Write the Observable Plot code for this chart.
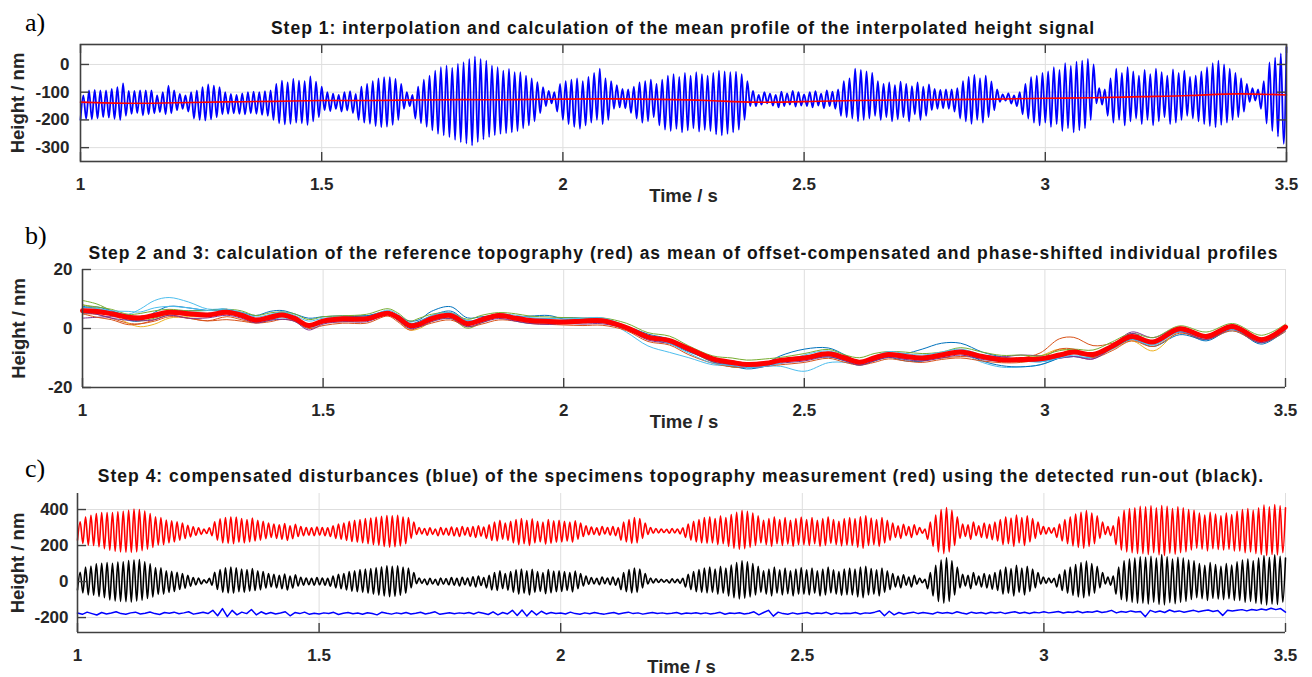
<!DOCTYPE html>
<html><head><meta charset="utf-8">
<script src="https://cdn.jsdelivr.net/npm/d3@7"></script>
<script src="https://cdn.jsdelivr.net/npm/@observablehq/plot@0.6"></script>
<style>
body{margin:0;background:#fff;}
#root{position:relative;width:1312px;height:677px;overflow:hidden;font-family:"Liberation Sans",Arial,sans-serif;}
.ttl{position:absolute;text-align:center;font-weight:bold;font-size:17.5px;line-height:17.5px;letter-spacing:1px;color:#151515;white-space:nowrap;}
.lbl{position:absolute;left:25px;font-family:"Liberation Serif","Times New Roman",serif;font-size:26px;line-height:26px;color:#000;}
#root svg{position:absolute;left:0;}
</style></head><body><div id="root"></div>
<script>
// ---------- shared axis data ----------
const xDomain = [1, 3.5];
const xTicks = [1, 1.5, 2, 2.5, 3, 3.5];

// ---------- panel a ----------
const aTitle = "Step 1: interpolation and calculation of the mean profile of the interpolated height signal";
const aDomain = [-350, 72];
const aTicks = [-300, -200, -100, 0];
const aTop = [
 [-112,-94,-92,-94,-94,-88,-82,-68,-95],
 [-95,-94,-94,-94,-112,-100,-76,-94],
 [-106,-112,-100,-94,-82,-72,-76,-82,-100],
 [-106,-110,-104,-100,-98,-100,-96,-94],
 [-70,-58,-65,-52,-58,-60,-43,-62,-80],
 [-100,-105,-110,-100,-96,-106,-80,-70],
 [-60,-50,-46,-46,-52,-70,-100,-110,-80],
 [-55,-40,-22,-10,-4,-12,2,8],
 [20,29,20,14,-4,-10,-22,-16,-28],
 [-28,-40,-50,-64,-82,-95,-100,-70],
 [-60,-55,-50,-60,-45,-30,-15,-50,-60],
 [-75,-88,-90,-80,-65,-60,-55,-70],
 [-55,-40,-35,-45,-30,-40,-28,-35,-40],
 [-30,-22,-25,-28,-26,-35,-60,-95],
 [-110,-100,-105,-110,-98,-104,-95,-100,-108],
 [-100,-96,-105,-94,-98,-90,-60,-50],
 [-15,-20,-25,-30,-60,-70,-65,-75,-62],
 [-70,-78,-65,-80,-72,-88,-92,-90],
 [-90,-85,-60,-45,-38,-50,-40,-61,-90],
 [-108,-104,-112,-100,-70,-46,-40,-30],
 [-25,-10,-20,5,-5,10,14,20,0],
 [-85,-90,-50,-15,-30,-10,-25,-40],
 [-20,-35,-15,-28,-40,-18,-30,-22,-45],
 [-40,-25,-10,5,14,0,-15,-30],
 [-50,-70,-85,-90,-60,7,25,40,62]
].flat();
const aBot = [
 [-200,-196,-198,-195,-190,-192,-196,-200,-185],
 [-178,-175,-184,-180,-176,-172,-180,-176],
 [-165,-160,-170,-195,-200,-202,-198,-190,-180],
 [-178,-176,-178,-180,-176,-178,-182,-185],
 [-200,-212,-216,-214,-210,-212,-218,-205,-190],
 [-165,-168,-160,-170,-166,-175,-200,-210],
 [-214,-222,-226,-224,-218,-200,-160,-150,-195],
 [-212,-225,-238,-250,-256,-262,-272,-280],
 [-285,-292,-280,-270,-262,-255,-250,-248,-245],
 [-240,-230,-220,-205,-175,-150,-140,-170],
 [-200,-215,-225,-232,-220,-210,-200,-215,-200],
 [-160,-155,-158,-175,-195,-210,-205,-190],
 [-220,-235,-240,-232,-245,-238,-230,-242,-236],
 [-240,-252,-256,-250,-245,-235,-200,-150],
 [-150,-145,-140,-148,-155,-150,-145,-152,-148],
 [-150,-155,-148,-158,-150,-160,-185,-190],
 [-195,-205,-200,-195,-185,-200,-190,-205,-198],
 [-190,-205,-180,-200,-185,-165,-160,-158],
 [-160,-170,-195,-205,-214,-200,-210,-190,-165],
 [-135,-130,-141,-150,-180,-195,-210,-220],
 [-210,-225,-215,-240,-230,-245,-238,-230,-200],
 [-140,-145,-185,-210,-200,-220,-205,-195],
 [-215,-200,-220,-205,-190,-215,-210,-200,-185],
 [-195,-205,-215,-222,-226,-218,-210,-200],
 [-190,-170,-135,-130,-160,-213,-240,-260,-286]
].flat();
const aMeanT = [1.0,1.1,1.2,1.3,1.4,1.5,1.6,1.7,1.8,1.9,2.0,2.1,2.2,2.3,2.4,2.5,2.6,2.7,2.8,2.9,3.0,3.1,3.2,3.3,3.4,3.5];
const aMean  = [-136,-140,-138,-135,-133,-130,-130,-128,-127,-127,-125,-124,-126,-130,-136,-134,-130,-128,-127,-125,-122,-120,-116,-112,-106,-110];

// ---------- panel b ----------
const bTitle = "Step 2 and 3: calculation of the reference topography (red) as mean of offset-compensated and phase-shifted individual profiles";
const bDomain = [-20, 20];
const bTicks = [-20, 0, 20];
const bT = [1.00,1.03,1.06,1.095,1.12,1.15,1.18,1.22,1.26,1.30,
 1.33,1.36,1.39,1.415,1.44,1.47,1.50,1.54,1.59,1.635,
 1.655,1.68,1.70,1.725,1.765,1.80,1.83,1.865,1.90,1.93,
 1.97,2.00,2.04,2.08,2.13,2.175,2.22,2.26,2.31,2.35,
 2.38,2.42,2.45,2.50,2.55,2.585,2.615,2.645,2.675,2.71,
 2.745,2.785,2.825,2.87,2.91,2.95,2.99,3.03,3.06,3.10,
 3.14,3.18,3.225,3.28,3.335,3.39,3.45,3.50];
const bRed = [6.0,5.8,5.0,3.8,3.6,4.5,5.5,5.0,4.6,5.5,
 4.5,2.9,3.8,4.6,3.5,1.0,2.5,3.3,3.3,5.2,
 3.8,1.0,1.5,3.3,4.4,1.6,3.0,4.4,3.5,2.7,
 2.4,2.2,2.5,2.6,0.3,-2.9,-4.1,-6.9,-10.3,-11.5,
 -12.2,-11.8,-10.8,-10.0,-8.6,-10.0,-11.4,-10.0,-8.8,-9.5,
 -10.0,-9.0,-8.0,-9.5,-10.6,-10.5,-10.3,-9.0,-8.0,-8.8,
 -6.0,-2.7,-4.6,-0.1,-2.7,0.7,-3.8,0.5];
const bBlue1 = [7.5,6.8,5.5,2.8,2.6,5.5,7.5,7.0,6.1,6.0,
 5.5,4.4,5.8,6.1,5.0,3.5,4.0,4.3,4.3,5.2,
 4.3,2.5,3.0,5.8,7.4,3.6,4.0,4.4,4.0,4.2,
 4.4,3.2,3.0,2.6,0.8,-1.9,-3.6,-6.9,-11.3,-13.0,
 -13.2,-11.8,-9.3,-7.0,-6.6,-9.0,-11.4,-10.5,-8.8,-8.5,
 -7.0,-5.0,-5.0,-8.0,-9.6,-10.5,-11.3,-10.0,-9.5,-9.8,
 -6.5,-3.7,-6.1,-2.1,-3.7,-0.3,-4.8,0.0];
const bOrange = [5.0,4.8,3.5,1.8,1.6,3.0,4.5,3.5,2.6,3.0,
 2.5,1.9,2.8,4.1,3.0,1.0,2.0,2.3,2.8,5.2,
 3.8,0.5,1.0,3.3,4.4,1.6,3.0,3.9,3.5,2.7,
 2.4,1.7,2.0,2.6,0.3,-2.9,-4.1,-6.4,-10.3,-11.5,
 -11.7,-11.3,-10.8,-10.0,-8.6,-9.5,-10.9,-10.0,-8.8,-10.0,
 -10.5,-10.0,-9.5,-10.0,-10.6,-10.0,-8.3,-3.5,-3.0,-5.8,
 -5.0,-2.7,-4.6,-0.6,-2.7,0.7,-3.3,0.5];
const bYellow = [8.0,6.8,5.0,1.8,0.6,1.5,3.5,4.0,4.1,5.5,
 4.5,3.4,3.8,4.6,3.5,0.5,2.5,3.3,2.8,5.2,
 2.8,-0.5,0.0,2.3,4.4,2.1,3.5,4.9,3.5,2.7,
 2.9,2.7,3.0,2.6,0.3,-2.9,-4.1,-7.4,-11.3,-12.0,
 -12.2,-11.8,-10.8,-9.5,-8.1,-10.0,-11.4,-10.0,-8.3,-9.5,
 -10.0,-9.0,-8.5,-9.5,-10.1,-10.0,-9.3,-7.0,-8.0,-9.3,
 -7.0,-4.2,-7.6,-1.1,-2.7,0.7,-3.3,0.5];
const bPurple = [3.5,3.8,4.0,3.8,4.1,4.5,5.0,4.5,4.6,5.5,
 4.0,2.9,3.8,4.6,4.0,1.0,2.5,3.8,3.8,5.7,
 3.8,1.5,1.5,3.3,4.4,1.6,3.5,4.9,4.0,3.2,
 2.4,2.2,2.5,2.6,0.3,-2.4,-4.1,-7.4,-10.8,-12.0,
 -12.2,-11.3,-10.8,-10.0,-9.1,-10.5,-11.4,-9.5,-8.8,-9.5,
 -10.0,-9.0,-8.0,-9.0,-9.6,-9.0,-9.3,-10.0,-9.5,-10.3,
 -6.0,-1.2,-3.1,0.4,-2.7,1.2,-3.3,0.5];
const bGreen = [9.5,8.3,6.0,3.3,2.6,3.5,5.0,5.0,5.1,5.5,
 4.5,2.9,4.3,5.6,4.0,1.0,2.5,3.3,3.3,5.2,
 3.8,1.5,1.5,2.8,3.4,0.1,2.0,3.9,3.5,2.7,
 2.4,2.2,3.0,3.1,0.3,-2.9,-4.1,-7.4,-11.3,-13.0,
 -13.2,-12.3,-10.8,-9.5,-8.6,-10.0,-11.4,-10.0,-8.8,-9.5,
 -9.5,-9.0,-8.5,-9.5,-10.6,-10.5,-10.3,-8.5,-7.5,-8.8,
 -6.0,-3.2,-4.6,-0.6,-2.7,0.7,-3.8,0.0];
const bCyan = [5.0,5.3,5.0,4.8,6.6,9.5,10.5,9.0,6.6,6.5,
 4.5,2.4,2.8,3.6,2.5,0.0,2.0,3.3,3.3,5.2,
 3.3,0.0,1.5,3.3,4.4,1.1,3.0,4.4,2.5,1.7,
 1.9,2.2,2.5,3.1,-1.2,-5.9,-8.1,-9.9,-12.3,-12.5,
 -13.2,-12.8,-12.8,-14.5,-11.6,-11.5,-12.4,-11.0,-9.3,-10.5,
 -11.0,-9.5,-8.5,-11.5,-13.1,-13.0,-12.3,-10.0,-9.5,-9.8,
 -7.0,-3.7,-5.6,-1.1,-3.7,-0.8,-4.8,-1.0];
const bMaroon = [6.5,5.8,5.0,4.3,4.1,4.5,5.5,5.5,5.1,5.5,
 4.0,2.4,3.8,4.6,3.5,1.5,2.5,3.3,3.3,5.2,
 4.3,1.5,1.5,3.3,4.4,2.1,3.0,4.4,3.0,2.7,
 2.4,2.2,2.5,2.6,0.8,-2.9,-4.1,-6.9,-10.3,-11.0,
 -11.7,-11.8,-10.8,-10.5,-8.6,-10.0,-10.9,-10.0,-8.8,-9.5,
 -10.5,-9.0,-8.0,-9.5,-10.6,-10.5,-10.3,-8.5,-7.5,-8.8,
 -6.0,-2.7,-4.6,-0.1,-2.2,0.7,-3.8,0.5];
const bBlue2 = [7.0,7.3,6.0,4.3,3.6,4.5,6.0,6.0,6.1,6.5,
 5.0,2.9,3.8,5.1,3.5,0.5,2.5,3.8,4.3,5.7,
 3.8,1.5,2.5,4.3,5.9,2.6,3.0,3.9,3.5,3.2,
 3.4,3.7,3.5,3.1,0.3,-3.4,-5.1,-7.9,-10.8,-12.5,
 -13.7,-12.8,-11.3,-10.5,-9.6,-11.0,-12.4,-11.0,-9.8,-11.0,
 -11.0,-9.0,-8.0,-11.0,-12.6,-13.0,-12.3,-10.0,-8.0,-8.3,
 -6.5,-3.7,-5.1,-1.1,-4.2,-0.3,-5.3,-0.5];
const bOrange2 = [5.0,3.8,3.0,1.3,1.6,2.5,4.0,3.5,2.6,4.0,
 3.0,1.9,2.3,3.1,2.5,0.0,1.0,1.8,1.8,4.2,
 2.3,-0.5,0.5,1.8,2.9,0.6,1.5,2.9,2.5,1.7,
 1.4,1.2,1.0,1.1,-0.7,-4.4,-5.6,-8.9,-11.8,-13.0,
 -13.2,-12.8,-12.3,-11.5,-10.1,-11.5,-12.4,-11.5,-10.3,-11.0,
 -11.5,-10.5,-10.0,-11.0,-11.6,-11.5,-10.3,-7.0,-7.0,-9.8,
 -7.5,-4.2,-6.1,-1.6,-3.7,-0.8,-4.8,-1.0];
const bGreen2 = [8.0,7.3,6.5,4.8,5.1,6.0,6.5,6.0,6.1,6.5,
 6.0,4.4,5.3,5.6,5.0,3.0,4.0,4.3,4.8,6.7,
 5.3,2.5,3.5,4.8,5.4,3.1,4.5,5.4,5.0,4.2,
 3.9,3.7,3.5,3.6,1.8,-1.4,-2.6,-5.9,-9.3,-10.0,
 -10.7,-10.3,-9.8,-8.5,-7.1,-9.0,-9.9,-8.5,-7.8,-8.0,
 -8.5,-8.0,-6.5,-8.0,-9.1,-9.0,-9.3,-7.5,-7.0,-7.3,
 -4.5,-1.7,-3.1,0.9,-1.2,1.7,-2.3,1.5];
const bPurple2 = [5.5,4.8,3.5,2.8,2.6,3.0,4.5,3.5,3.6,4.5,
 3.5,1.9,2.8,3.1,2.5,-0.5,1.5,2.3,2.3,4.7,
 2.8,0.0,0.5,2.3,3.4,0.6,2.0,3.4,2.5,1.7,
 1.4,1.7,1.5,1.6,-0.2,-3.9,-5.1,-7.4,-11.3,-12.5,
 -13.2,-12.8,-11.8,-11.0,-9.6,-11.0,-12.4,-11.0,-9.8,-10.5,
 -11.0,-10.0,-9.0,-10.5,-11.1,-11.0,-10.8,-10.0,-9.5,-10.3,
 -6.5,-1.7,-4.6,-1.1,-3.7,-0.3,-4.8,-0.5];
const bCyan2 = [7.0,6.8,6.0,5.8,5.6,7.0,7.5,7.0,6.1,6.5,
 5.5,3.9,4.8,5.6,4.5,2.5,3.5,3.8,3.8,6.2,
 4.8,2.0,2.0,4.3,5.4,2.6,3.5,4.9,4.5,3.7,
 3.4,3.2,3.5,3.6,0.8,-2.9,-5.1,-8.4,-11.8,-12.5,
 -13.2,-12.8,-11.8,-9.0,-7.6,-9.5,-11.4,-9.5,-7.8,-8.5,
 -9.0,-8.0,-7.0,-9.0,-10.6,-11.0,-11.3,-10.0,-9.0,-9.3,
 -6.0,-3.7,-5.6,-1.1,-3.2,-0.3,-4.3,-0.5];
const bProfiles = [
 {color: "#0072BD", values: bBlue1},
 {color: "#D95319", values: bOrange},
 {color: "#EDB120", values: bYellow},
 {color: "#7E2F8E", values: bPurple},
 {color: "#77AC30", values: bGreen},
 {color: "#4DBEEE", values: bCyan},
 {color: "#A2142F", values: bMaroon},
 {color: "#0072BD", values: bBlue2},
 {color: "#D95319", values: bOrange2},
 {color: "#77AC30", values: bGreen2},
 {color: "#7E2F8E", values: bPurple2},
 {color: "#4DBEEE", values: bCyan2}
];

// ---------- panel c ----------
const cTitle = "Step 4: compensated disturbances (blue) of the specimens topography measurement (red) using the detected run-out (black).";
const cDomain = [-283, 489];
const cTicks = [-200, 0, 200, 400];
const cRedTop = [
 [332,359,368,378,383,383,383,387,390],[396,402,400,391,378,359,355,341,338],
 [332,325,313,304,298,291,298,332,348],[355,360,358,350,345,352,340,335,325],
 [320,315,322,310,318,305,300,298,302],[300,298,310,320,325,335,340,345,350],
 [352,358,362,367,365,368,360,355,330],[300,295,298,292,300,296,302,298,305],
 [300,305,310,302,315,330,340,325,335],[345,350,340,348,335,330,345,338,340],
 [335,330,338,325,310,302,298,305,300],[305,300,330,345,355,350,325,300,295],
 [292,290,295,292,298,320,335,345,355],[360,350,365,355,372,385,394,390,380],
 [365,340,350,360,345,355,340,350,358],[345,355,340,350,360,345,335,350,355],
 [350,360,365,352,345,355,340,325,310],[318,305,315,300,292,330,370,400,411],
 [395,360,320,315,330,310,325,318,330],[345,360,352,370,355,365,350,330,305],
 [300,298,320,345,360,375,385,394,380],[365,330,305,310,360,395,405,410,418],
 [415,420,410,422,418,405,415,410,400],[395,380,370,385,375,365,380,372,390],
 [400,405,395,410,425,415,428,420,410]
].flat();
const cRedBot = [
 [230,211,202,200,193,183,174,168,165],[163,162,165,172,180,190,202,205,215],
 [220,230,239,248,257,262,267,255,230],[215,212,210,218,215,220,225,230,238],
 [245,240,235,228,238,250,255,258,255],[258,255,250,240,235,228,222,218,215],
 [210,205,200,195,191,193,198,210,240],[262,265,258,262,255,260,258,254,250],
 [258,250,245,252,240,228,225,235,228],[215,205,210,200,215,220,208,212,218],
 [220,225,218,235,250,260,262,258,264],[258,255,230,220,212,215,240,262,268],
 [270,272,268,270,265,245,230,220,215],[212,215,205,210,195,185,180,183,190],
 [200,215,205,195,210,200,208,195,205],[205,200,210,195,200,212,205,198,202],
 [200,190,185,200,205,195,215,230,245],[240,255,245,260,268,235,195,165,155],
 [165,200,240,250,235,255,245,240,232],[225,205,210,195,215,200,220,240,262],
 [265,268,245,225,210,198,190,185,195],[210,240,262,255,205,175,165,160,155],
 [155,150,160,148,145,158,152,160,165],[175,185,180,170,182,178,175,180,170],
 [170,160,165,155,150,145,150,148,160]
].flat();
const cBlackTop = [
 [52,80,86,99,102,105,101,108,109],[116,120,122,110,99,78,76,60,57],
 [52,44,35,22,20,10,18,52,66],[76,80,77,70,66,72,60,56,44],
 [40,34,42,30,38,24,20,18,22],[20,18,30,40,44,55,60,66,70],
 [72,78,82,88,85,88,80,75,50],[20,14,18,12,20,16,22,18,24],
 [20,26,30,22,35,50,60,45,55],[65,70,60,68,55,50,66,58,60],
 [55,50,58,45,30,22,18,25,20],[25,20,50,66,75,70,45,20,15],
 [12,10,15,12,18,40,55,66,75],[80,70,85,75,92,106,115,110,100],
 [85,60,70,80,65,75,60,70,78],[65,75,60,70,80,65,55,70,75],
 [70,80,85,72,65,75,60,45,30],[38,25,35,20,12,50,90,120,132],
 [115,80,40,35,50,30,45,38,50],[65,80,72,90,75,85,70,50,25],
 [20,18,40,65,80,95,105,114,100],[85,50,25,30,80,115,125,130,138],
 [135,140,130,150,138,125,135,130,120],[115,100,90,105,95,85,100,92,110],
 [120,125,115,130,145,135,148,140,130]
].flat();
const cBlackBot = [
 [-46,-63,-74,-76,-83,-90,-102,-108,-110],[-112,-114,-108,-104,-94,-86,-72,-70,-60],
 [-55,-44,-37,-26,-18,-14,-8,-20,-44],[-60,-64,-65,-56,-60,-54,-50,-46,-36],
 [-30,-36,-40,-47,-36,-25,-20,-18,-20],[-18,-20,-26,-35,-40,-47,-54,-57,-60],
 [-65,-70,-76,-80,-84,-82,-77,-65,-35],[-12,-10,-18,-14,-20,-15,-18,-20,-25],
 [-18,-25,-30,-22,-35,-47,-50,-40,-48],[-60,-70,-65,-75,-60,-55,-68,-63,-57],
 [-55,-50,-58,-40,-25,-15,-13,-18,-12],[-18,-20,-45,-56,-63,-60,-35,-14,-8],
 [-5,-3,-8,-6,-10,-30,-45,-56,-60],[-63,-60,-70,-65,-80,-90,-96,-92,-85],
 [-75,-60,-70,-80,-65,-75,-67,-80,-70],[-70,-75,-65,-80,-75,-63,-70,-77,-73],
 [-75,-85,-90,-75,-70,-80,-60,-45,-30],[-35,-20,-30,-15,-7,-40,-80,-110,-120],
 [-110,-75,-35,-25,-40,-20,-30,-35,-43],[-50,-70,-65,-80,-60,-75,-55,-35,-13],
 [-10,-7,-30,-50,-65,-77,-85,-90,-80],[-65,-35,-13,-20,-70,-100,-110,-115,-120],
 [-120,-125,-115,-127,-130,-117,-123,-115,-110],[-100,-90,-95,-105,-93,-97,-100,-95,-105],
 [-105,-115,-110,-120,-125,-130,-125,-127,-115]
].flat();
const cBlue = [
 [-175,-182,-170,-178,-186,-172,-180,-175,-168,-178],
 [-182,-174,-170,-180,-176,-169,-178,-183,-172,-176],
 [-170,-179,-174,-168,-181,-176,-171,-178,-160,-190],
 [-150,-195,-160,-185,-170,-178,-155,-185,-168,-180],
 [-172,-180,-175,-168,-190,-172,-178,-170,-182,-176],
 [-180,-174,-178,-171,-183,-176,-172,-179,-175,-182],
 [-173,-178,-185,-170,-176,-181,-174,-179,-172,-180],
 [-176,-171,-180,-175,-168,-182,-177,-173,-179,-174],
 [-178,-172,-180,-170,-176,-183,-168,-185,-172,-180],
 [-160,-188,-158,-192,-162,-185,-165,-180,-172,-178],
 [-175,-180,-170,-178,-182,-174,-179,-172,-177,-181],
 [-176,-172,-180,-175,-170,-178,-174,-181,-176,-172],
 [-178,-174,-179,-176,-172,-180,-175,-177,-173,-179],
 [-174,-180,-176,-171,-182,-175,-178,-173,-180,-176],
 [-168,-185,-172,-160,-192,-170,-178,-182,-174,-180],
 [-176,-172,-180,-175,-178,-171,-182,-174,-179,-176],
 [-178,-172,-180,-174,-176,-170,-162,-190,-165,-185],
 [-172,-180,-175,-170,-178,-172,-176,-180,-170,-176],
 [-172,-178,-168,-175,-180,-170,-176,-172,-179,-171],
 [-175,-170,-178,-172,-168,-176,-171,-177,-170,-174],
 [-168,-174,-170,-166,-175,-169,-172,-165,-173,-168],
 [-170,-164,-172,-168,-160,-174,-166,-171,-163,-169],
 [-166,-195,-160,-170,-164,-172,-158,-168,-163,-170],
 [-165,-160,-168,-162,-158,-166,-161,-188,-159,-164],
 [-160,-156,-163,-155,-160,-152,-158,-148,-156,-150],
 [-170]
].flat();

// ---------- helpers ----------
const GRID = "#dedede";
const AXIS = "#404040";
const baseStyle = {fontFamily: '"Liberation Sans", Arial, sans-serif', fontSize: "17px", fontWeight: "bold", color: "#262626", background: "transparent", overflow: "visible"};
const fmt = d => String(d);

function osc(tops, bots) {
  const n = Math.min(tops.length, bots.length), m = 2 * n;
  return d3.range(m).map(k => ({
    t: xDomain[0] + k * (xDomain[1] - xDomain[0]) / (m - 1),
    v: k % 2 === 0 ? bots[k >> 1] : tops[k >> 1]
  }));
}
const pairs = (ts, vs) => ts.map((t, i) => ({t, v: vs[i]}));

function axisLabels(dxY) {
  return [
    Plot.text(["Time / s"], {text: d => d, frameAnchor: "bottom", lineAnchor: "top", dy: 27, fontSize: 18.5, fill: "#262626"}),
    Plot.text(["Height / nm"], {text: d => d, frameAnchor: "left", textAnchor: "middle", lineAnchor: "middle", rotate: -90, dx: dxY, fontSize: 18.5, fill: "#262626"})
  ];
}

const root = document.getElementById("root");
function place(svg, top) { svg.style.top = top + "px"; root.appendChild(svg); }
function addDiv(cls, text, css) { const d = document.createElement("div"); d.className = cls; d.textContent = text; Object.assign(d.style, css); root.appendChild(d); }

// ---------- panel a ----------
{
  const H = 210, mt = 44, mb = 49, ml = 80, mr = 26;
  const fh = H - mt - mb, fw = 1312 - ml - mr, tl = 9;
  const svg = Plot.plot({
    width: 1312, height: H, marginTop: mt, marginBottom: mb, marginLeft: ml, marginRight: mr,
    style: baseStyle,
    x: {domain: xDomain, ticks: xTicks, tickSize: 0, tickPadding: 16, tickFormat: fmt, label: null},
    y: {domain: aDomain, ticks: aTicks, tickSize: 0, tickPadding: 11, tickFormat: fmt, label: null},
    marks: [
      Plot.ruleY(aTicks, {stroke: GRID, strokeWidth: 1}),
      Plot.ruleX(xTicks, {stroke: GRID, strokeWidth: 1}),
      Plot.line(osc(aTop, aBot), {x: "t", y: "v", stroke: "#0000ff", strokeWidth: 1.8, curve: "monotone-x"}),
      Plot.line(pairs(aMeanT, aMean), {x: "t", y: "v", stroke: "#ff0000", strokeWidth: 1.6, curve: "natural"}),
      Plot.frame({stroke: AXIS, strokeWidth: 1.6}),
      Plot.ruleX(xTicks, {stroke: AXIS, strokeWidth: 1.4, insetTop: fh - tl}),
      Plot.ruleX(xTicks, {stroke: AXIS, strokeWidth: 1.4, insetBottom: fh - tl}),
      Plot.ruleY(aTicks, {stroke: AXIS, strokeWidth: 1.4, insetRight: fw - tl}),
      Plot.ruleY(aTicks, {stroke: AXIS, strokeWidth: 1.4, insetLeft: fw - tl}),
      ...axisLabels(-62)
    ]
  });
  place(svg, 0);
  addDiv("ttl", aTitle, {left: ml + "px", width: fw + "px", top: "20px"});
  addDiv("lbl", "a)", {top: "10px"});
}

// ---------- panel b ----------
{
  const top = 205, H = 230, mt = 64, mb = 48, ml = 82, mr = 27;
  const fh = H - mt - mb, fw = 1312 - ml - mr, tl = 9;
  const svg = Plot.plot({
    width: 1312, height: H, marginTop: mt, marginBottom: mb, marginLeft: ml, marginRight: mr,
    style: baseStyle,
    x: {domain: xDomain, ticks: xTicks, tickSize: 0, tickPadding: 16, tickFormat: fmt, label: null},
    y: {domain: bDomain, ticks: bTicks, tickSize: 0, tickPadding: 10, tickFormat: fmt, label: null},
    marks: [
      Plot.ruleY(bTicks, {stroke: GRID, strokeWidth: 1}),
      Plot.ruleX(xTicks, {stroke: GRID, strokeWidth: 1}),
      ...bProfiles.map(p => Plot.line(pairs(bT, p.values), {x: "t", y: "v", stroke: p.color, strokeWidth: 1, curve: "catmull-rom"})),
      Plot.line(pairs(bT, bRed), {x: "t", y: "v", stroke: "#ff0000", strokeWidth: 5, curve: "catmull-rom"}),
      Plot.ruleX([xDomain[0]], {stroke: AXIS, strokeWidth: 1.6}),
      Plot.ruleY([bDomain[0]], {stroke: AXIS, strokeWidth: 1.6}),
      Plot.ruleX(xTicks, {stroke: AXIS, strokeWidth: 1.4, insetTop: fh - tl}),
      Plot.ruleY(bTicks, {stroke: AXIS, strokeWidth: 1.4, insetRight: fw - tl}),
      ...axisLabels(-63)
    ]
  });
  place(svg, top);
  addDiv("ttl", bTitle, {left: ml + "px", width: fw + "px", top: "245px"});
  addDiv("lbl", "b)", {top: "223px"});
}

// ---------- panel c ----------
{
  const top = 440, H = 237, mt = 53, mb = 45, ml = 77, mr = 27;
  const fh = H - mt - mb, fw = 1312 - ml - mr, tl = 9;
  const blueData = cBlue.map((v, i) => ({t: xDomain[0] + i * (xDomain[1] - xDomain[0]) / (cBlue.length - 1), v}));
  const svg = Plot.plot({
    width: 1312, height: H, marginTop: mt, marginBottom: mb, marginLeft: ml, marginRight: mr,
    style: baseStyle,
    x: {domain: xDomain, ticks: xTicks, tickSize: 0, tickPadding: 16, tickFormat: fmt, label: null},
    y: {domain: cDomain, ticks: cTicks, tickSize: 0, tickPadding: 9, tickFormat: fmt, label: null},
    marks: [
      Plot.ruleY(cTicks, {stroke: GRID, strokeWidth: 1}),
      Plot.ruleX(xTicks, {stroke: GRID, strokeWidth: 1}),
      Plot.line(osc(cRedTop, cRedBot), {x: "t", y: "v", stroke: "#ff0000", strokeWidth: 1.6, curve: "monotone-x"}),
      Plot.line(osc(cBlackTop, cBlackBot), {x: "t", y: "v", stroke: "#000000", strokeWidth: 1.6, curve: "monotone-x"}),
      Plot.line(blueData, {x: "t", y: "v", stroke: "#0000ff", strokeWidth: 1.5}),
      Plot.ruleX([xDomain[0]], {stroke: AXIS, strokeWidth: 1.6}),
      Plot.ruleY([cDomain[0]], {stroke: AXIS, strokeWidth: 1.6}),
      Plot.ruleX(xTicks, {stroke: AXIS, strokeWidth: 1.4, insetTop: fh - tl}),
      Plot.ruleY(cTicks, {stroke: AXIS, strokeWidth: 1.4, insetRight: fw - tl}),
      ...axisLabels(-59)
    ]
  });
  place(svg, top);
  addDiv("ttl", cTitle, {left: ml + "px", width: fw + "px", top: "468px"});
  addDiv("lbl", "c)", {top: "456px"});
}
</script></body></html>
